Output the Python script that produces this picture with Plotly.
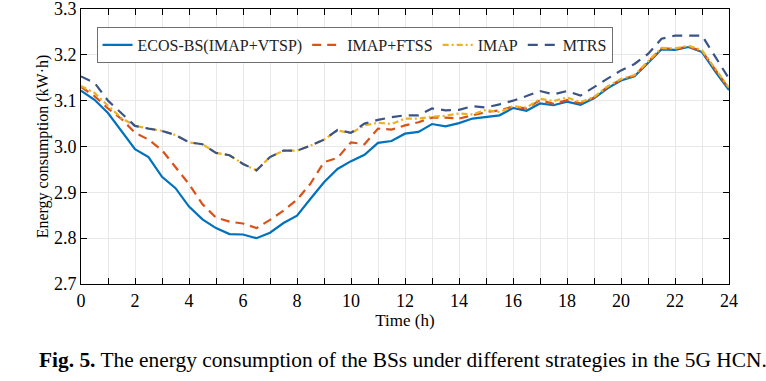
import plotly.graph_objects as go

hours = [i * 0.5 for i in range(49)]

ecos_bs = [3.122, 3.102, 3.073, 3.034, 2.994, 2.977, 2.934, 2.909, 2.869, 2.841,
           2.822, 2.809, 2.808, 2.800, 2.812, 2.833, 2.849, 2.886, 2.922, 2.951,
           2.968, 2.982, 3.008, 3.012, 3.028, 3.032, 3.049, 3.044, 3.051, 3.061,
           3.064, 3.068, 3.084, 3.078, 3.094, 3.090, 3.098, 3.091, 3.105, 3.127,
           3.144, 3.153, 3.182, 3.212, 3.211, 3.217, 3.206, 3.163, 3.123]

imap_ftss = [3.130, 3.110, 3.083, 3.060, 3.030, 3.015, 2.992, 2.955, 2.918, 2.874,
             2.845, 2.836, 2.832, 2.822, 2.840, 2.860, 2.884, 2.919, 2.966, 2.975,
             3.009, 3.005, 3.039, 3.037, 3.046, 3.053, 3.063, 3.063, 3.061, 3.068,
             3.075, 3.079, 3.087, 3.083, 3.101, 3.093, 3.101, 3.094, 3.107, 3.130,
             3.146, 3.155, 3.184, 3.214, 3.213, 3.218, 3.208, 3.166, 3.126]

imap = [3.132, 3.117, 3.089, 3.062, 3.045, 3.039, 3.034, 3.025, 3.009, 3.005,
        2.986, 2.981, 2.962, 2.948, 2.977, 2.991, 2.991, 3.002, 3.015, 3.035,
        3.029, 3.046, 3.052, 3.049, 3.061, 3.061, 3.065, 3.067, 3.072, 3.070,
        3.080, 3.075, 3.088, 3.085, 3.104, 3.099, 3.107, 3.097, 3.108, 3.131,
        3.147, 3.156, 3.185, 3.215, 3.214, 3.220, 3.210, 3.168, 3.128]

mtrs = [3.153, 3.139, 3.100, 3.072, 3.045, 3.039, 3.034, 3.025, 3.009, 3.005,
        2.986, 2.981, 2.962, 2.948, 2.977, 2.991, 2.991, 3.002, 3.015, 3.036,
        3.030, 3.050, 3.058, 3.064, 3.068, 3.068, 3.083, 3.079, 3.080, 3.088,
        3.085, 3.092, 3.100, 3.110, 3.121, 3.114, 3.121, 3.111, 3.130, 3.148,
        3.166, 3.180, 3.202, 3.235, 3.242, 3.242, 3.242, 3.195, 3.148]

series_names = ["ECOS-BS(IMAP+VTSP)", "IMAP+FTSS", "IMAP", "MTRS"]
x_tick_vals = list(range(0, 25))
x_tick_text = [str(v) if v % 2 == 0 else "" for v in x_tick_vals]
y_tick_vals = [2.7, 2.8, 2.9, 3.0, 3.1, 3.2, 3.3]
y_tick_text = ["2.7", "2.8", "2.9", "3.0", "3.1", "3.2", "3.3"]

colors = ["#0072BD", "#D95319", "#EDB120", "#3B5488"]
dashes = ["solid", "9px,6px", "6px,3px,2px,3px", "10px,7px"]

fig = go.Figure()
for name, ys, c, d in zip(series_names, [ecos_bs, imap_ftss, imap, mtrs], colors, dashes):
    fig.add_trace(go.Scatter(x=hours, y=ys, mode="lines", name=name,
                             line=dict(color=c, width=2.2, dash=d)))

font_family = "Liberation Serif"
fig.update_layout(
    width=766, height=381,
    margin=dict(l=81, r=37, t=9, b=97),
    plot_bgcolor="white", paper_bgcolor="white",
    font=dict(family=font_family, color="#000000", size=17),
    showlegend=True,
    legend=dict(orientation="h", x=0.024, y=0.935, xanchor="left", yanchor="top",
                bgcolor="white", bordercolor="#707070", borderwidth=1,
                font=dict(family=font_family, size=16, color="#222222"),
                itemwidth=30, tracegroupgap=0),
    xaxis=dict(range=[0, 24], tickvals=x_tick_vals, ticktext=x_tick_text,
               ticks="inside", ticklen=6, tickcolor="black", tickwidth=1,
               showline=True, linecolor="black", linewidth=1, mirror="ticks",
               showgrid=True, gridcolor="#e8e8e8", gridwidth=1, zeroline=False,
               automargin=False, ticklabeloverflow="allow",
               tickfont=dict(size=18, family=font_family),
               title=dict(text="Time (h)", font=dict(size=17, family=font_family), standoff=2)),
    yaxis=dict(range=[2.7, 3.3], tickvals=y_tick_vals, ticktext=y_tick_text,
               ticks="inside", ticklen=6, tickcolor="black", tickwidth=1,
               showline=True, linecolor="black", linewidth=1, mirror="ticks",
               showgrid=True, gridcolor="#e8e8e8", gridwidth=1, zeroline=False,
               automargin=False, ticklabeloverflow="allow",
               tickfont=dict(size=18, family=font_family),
               title=dict(text="Energy consumption (kW·h)", font=dict(size=16, family=font_family), standoff=1)),
)

fig.add_annotation(
    text="<b>Fig. 5.</b> The energy consumption of the BSs under different strategies in the 5G HCN.",
    xref="paper", yref="paper", x=-0.068, y=-0.276, xanchor="left", yanchor="middle",
    showarrow=False, font=dict(family=font_family, size=21.4, color="black"))

fig.write_html("out.html",
               config={"displayModeBar": False},
               post_script="document.body.style.margin='0';document.body.style.padding='0';")
